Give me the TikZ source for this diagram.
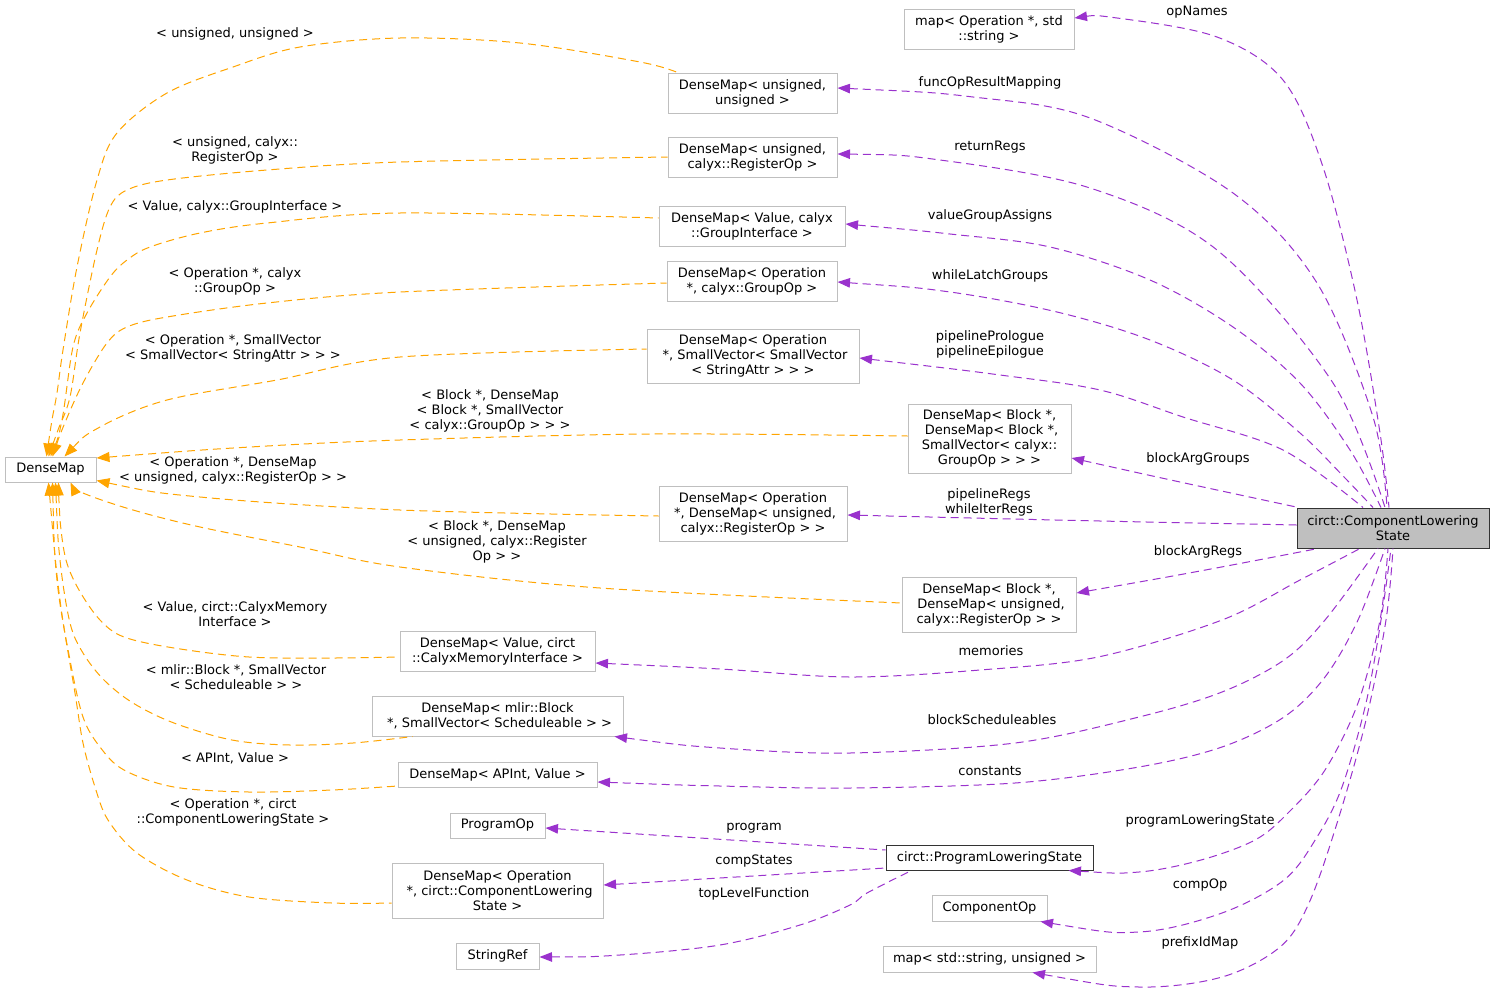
\documentclass[tikz,border=0pt]{standalone}
\usepackage{fontspec}
\setmainfont{DejaVu Sans}
\usetikzlibrary{arrows.meta}
\definecolor{edgeorange}{HTML}{FFA500}
\definecolor{edgepurple}{HTML}{9A32CD}
\definecolor{boxgray}{HTML}{BFBFBF}
\definecolor{clsfill}{HTML}{BFBFBF}
\definecolor{darkbord}{HTML}{333333}
\begin{document}
\begin{tikzpicture}[x=1pt,y=-1pt,
  every node/.style={font=\fontsize{13}{15}\selectfont, text=black},
  box/.style={draw=boxgray, line width=1pt, fill=white, align=center, inner sep=0pt},
  lab/.style={align=center, inner sep=0pt},
  oe/.style={draw=edgeorange, line width=1pt, dash pattern=on 8pt off 5pt, {Triangle[length=13pt,width=10pt]}-},
  pe/.style={draw=edgepurple, line width=1pt, dash pattern=on 8pt off 5pt, {Triangle[length=12.5pt,width=9.5pt]}-},
  sm/.style={smooth, tension=0.55}]
\fill[white] (0,0) rectangle (1495,993);
\useasboundingbox (0,0) rectangle (1495,993);

% nodes
\node[box, minimum width=170pt, minimum height=40pt] (mapOp) at (989,29) {map< Operation *, std\\::string >};
\node[box, minimum width=169pt, minimum height=40pt] (dmUU) at (752.5,93) {DenseMap< unsigned,\\unsigned >};
\node[box, minimum width=169pt, minimum height=40pt] (dmUR) at (752.5,157) {DenseMap< unsigned,\\calyx::RegisterOp >};
\node[box, minimum width=186pt, minimum height=40pt] (dmVG) at (752,226) {DenseMap< Value, calyx\\::GroupInterface >};
\node[box, minimum width=170pt, minimum height=40pt] (dmOG) at (752,281) {DenseMap< Operation\\*, calyx::GroupOp >};
\node[box, minimum width=212pt, minimum height=54pt] (dmOS) at (753,356) {DenseMap< Operation\\\ *, SmallVector< SmallVector\\< StringAttr > > >};
\node[box, minimum width=163pt, minimum height=69pt] (dmBB) at (989.5,438.5) {DenseMap< Block *,\\\ DenseMap< Block *,\\SmallVector< calyx::\\GroupOp > > >};
\node[box, minimum width=188pt, minimum height=55pt] (dmOD) at (753,513.5) {DenseMap< Operation\\\ *, DenseMap< unsigned,\\calyx::RegisterOp > >};
\node[box, minimum width=174pt, minimum height=55pt] (dmBU) at (989,604.5) {DenseMap< Block *,\\\ DenseMap< unsigned,\\calyx::RegisterOp > >};
\node[box, minimum width=195pt, minimum height=40pt] (dmVM) at (497.5,651) {DenseMap< Value, circt\\::CalyxMemoryInterface >};
\node[box, minimum width=251pt, minimum height=40pt] (dmMB) at (497.5,716) {DenseMap< mlir::Block\\\ *, SmallVector< Scheduleable > >};
\node[box, minimum width=199pt, minimum height=25pt] (dmAV) at (497.5,774.5) {DenseMap< APInt, Value >};
\node[box, minimum width=95pt, minimum height=25pt] (progOp) at (497.5,825.5) {ProgramOp};
\node[box, minimum width=211pt, minimum height=55pt] (dmOC) at (497.5,890.5) {DenseMap< Operation\\\ *, circt::ComponentLowering\\State >};
\node[box, minimum width=83pt, minimum height=26pt] (strRef) at (497.5,956) {StringRef};
\node[box, draw=darkbord, minimum width=207pt, minimum height=25pt] (pls) at (989.5,857.5) {circt::ProgramLoweringState};
\node[box, minimum width=115pt, minimum height=26pt] (compOp) at (989.5,908) {ComponentOp};
\node[box, minimum width=213pt, minimum height=26pt] (mapSU) at (989.5,959) {map< std::string, unsigned >};
\node[box, minimum width=91pt, minimum height=25pt] (dm) at (50.5,469.5) {DenseMap};
\node[box, draw=darkbord, fill=clsfill, minimum width=192pt, minimum height=40pt] (cls) at (1393,528) {circt::ComponentLowering\\State};

% orange edges
\draw[oe] plot[sm] coordinates {([xshift=-4pt]dm.north) (52,420) (57,393) (63,350) (77,267) (97,180) (117,133) (167,93) (233,67) (300,47) (400,38) (520,43) (640,62) ([xshift=10pt]dmUU.north west)};
\draw[oe] plot[sm] coordinates {([xshift=-2pt]dm.north) (58,430) (70,397) (80,333) (97,250) (110,207) (127,190) (167,180) (267,170) (400,162) (dmUR.west)};
\draw[oe] plot[sm] coordinates {(dm.north) (62,420) (73,347) (87,313) (110,277) (127,260) (150,247) (200,233) (267,223) (400,213) ([yshift=8pt]dmVG.west)};
\draw[oe] plot[sm] coordinates {([xshift=2pt]dm.north) (64,425) (83,383) (107,343) (127,327) (167,317) (267,303) (400,292) ([yshift=-2pt]dmOG.west)};
\draw[oe] plot[sm] coordinates {([xshift=14pt]dm.north) (100,427) (167,400) (277,380) (400,357) ([yshift=7pt]dmOS.west)};
\draw[oe] plot[sm] coordinates {([yshift=11.5pt]dm.east) (250,447) (400,440) (650,434) ([yshift=2.5pt]dmBB.west)};
\draw[oe] plot[sm] coordinates {([yshift=2pt]dm.south east) (200,497) (400,510) ([yshift=-2.5pt]dmOD.west)};
\draw[oe] plot[sm] coordinates {([xshift=-26pt]dm.south east) (83,493) (133,510) (200,527) (300,547) (400,567) (600,588) ([yshift=1.5pt]dmBU.west)};
\draw[oe] plot[sm] coordinates {([xshift=8pt]dm.south) (60,520) (66,560) (79,590) (100,620) (124,637) (174,648) (249,657) (332,658) ([yshift=-6pt]dmVM.west)};
\draw[oe] plot[sm] coordinates {([xshift=5pt]dm.south) (60,560) (70,623) (83,653) (104,680) (133,703) (174,723) (232,740) (290,745) (353,743) ([xshift=41pt]dmMB.south west)};
\draw[oe] plot[sm] coordinates {([xshift=2pt]dm.south) (57,580) (70,660) (83,717) (100,747) (124,770) (174,787) (249,792) (332,790) ([yshift=-11.5pt]dmAV.west)};
\draw[oe] plot[sm] coordinates {([xshift=-2pt]dm.south) (60,600) (75,693) (83,743) (95,787) (108,820) (137,853) (187,880) (249,897) (332,903) ([yshift=-12.5pt]dmOC.west)};

% purple edges from ComponentLoweringState
\draw[pe] plot[sm] coordinates {([yshift=11pt]mapOp.east) (1117,18) (1217,37) (1283,80) (1323,167) (1357,300) (1380,433) ([xshift=-4pt]cls.north)};
\draw[pe] plot[sm] coordinates {([yshift=5pt]dmUU.east) (973,97) (1090,118) (1233,193) (1317,283) (1373,417) ([xshift=-6pt]cls.north)};
\draw[pe] plot[sm] coordinates {([yshift=3pt]dmUR.east) (940,160) (1090,188) (1217,250) (1333,383) ([xshift=-8pt]cls.north)};
\draw[pe] plot[sm] coordinates {([yshift=2pt]dmVG.east) (950,234) (1050,247) (1150,280) (1233,327) (1300,383) (1350,450) ([xshift=-12pt]cls.north)};
\draw[pe] plot[sm] coordinates {([yshift=-1pt]dmOG.east) (950,292) (1057,312) (1150,340) (1233,380) (1300,433) (1345,478) ([xshift=-20pt]cls.north)};
\draw[pe] plot[sm] coordinates {([yshift=-2pt]dmOS.east) (1000,375) (1100,390) (1183,417) (1283,450) ([xshift=-30pt]cls.north)};
\draw[pe] plot[sm] coordinates {([yshift=-19.5pt]dmBB.east) (1180,482) ([xshift=2pt]cls.north west)};
\draw[pe] plot[sm] coordinates {([yshift=-1.5pt]dmOD.east) (1100,521) ([yshift=3pt]cls.west)};
\draw[pe] plot[sm] coordinates {([yshift=11.5pt]dmBU.east) (1200,571) ([xshift=-75pt]cls.south)};
\draw[pe] plot[sm] coordinates {([yshift=-12pt]dmVM.east) (720,669) (850,677) (980,670) (1098,657) (1222,620) (1300,580) ([xshift=-33pt]cls.south)};
\draw[pe] plot[sm] coordinates {([xshift=-9pt]dmMB.south east) (720,748) (850,753) (1015,743) (1139,717) (1222,692) (1284,660) (1325,620) ([xshift=-15pt]cls.south)};
\draw[pe] plot[sm] coordinates {([yshift=-7.5pt]dmAV.east) (720,786) (850,788) (1015,783) (1139,767) (1222,747) (1284,717) (1325,677) (1358,620) ([xshift=-8pt]cls.south)};
\draw[pe] plot[sm] coordinates {([xshift=-25pt]pls.south east) (1139,872) (1201,860) (1255,840) (1288,813) (1325,770) (1358,703) (1380,620) ([xshift=-5pt]cls.south)};
\draw[pe] plot[sm] coordinates {([xshift=-7pt]compOp.south east) (1139,932) (1222,913) (1284,880) (1317,837) (1342,787) (1366,703) (1381,620) ([xshift=-2pt]cls.south)};
\draw[pe] plot[sm] coordinates {([xshift=-64pt]mapSU.south east) (1139,987) (1222,977) (1280,947) (1309,903) (1338,820) (1366,720) (1386,620) (cls.south)};

% purple edges from ProgramLoweringState
\draw[pe] ([yshift=-2.5pt]progOp.east) -- ([yshift=7.5pt]pls.west);
\draw[pe] ([yshift=5.5pt]dmOC.east) -- ([yshift=-10.5pt]pls.west);
\draw[pe] plot[sm] coordinates {([yshift=-1pt]strRef.east) (620,955) (720,945) (800,925) (850,905) (867,893) ([xshift=26pt]pls.south west)};

% orange labels
\node[lab] (lo1) at (235,34) {< unsigned, unsigned >};
\node[lab] (lo2) at (235,150) {< unsigned, calyx::\\RegisterOp >};
\node[lab] (lo3) at (235,207) {< Value, calyx::GroupInterface >};
\node[lab] (lo4) at (235,281) {< Operation *, calyx\\::GroupOp >};
\node[lab] (lo5) at (233,348) {< Operation *, SmallVector\\< SmallVector< StringAttr > > >};
\node[lab] (lo6) at (490,411) {< Block *, DenseMap\\< Block *, SmallVector\\< calyx::GroupOp > > >};
\node[lab] (lo7) at (233,470) {< Operation *, DenseMap\\< unsigned, calyx::RegisterOp > >};
\node[lab] (lo8) at (497,542) {< Block *, DenseMap\\< unsigned, calyx::Register\\Op > >};
\node[lab] (lo9) at (235,614) {< Value, circt::CalyxMemory\\Interface >};
\node[lab] (lo10) at (236,677) {< mlir::Block *, SmallVector\\< Scheduleable > >};
\node[lab] (lo11) at (235,758) {< APInt, Value >};
\node[lab] (lo12) at (233,812) {< Operation *, circt\\::ComponentLoweringState >};

% purple labels
\node[lab] (lp1) at (1197,12) {opNames};
\node[lab] (lp2) at (990,83) {funcOpResultMapping};
\node[lab] (lp3) at (990,147) {returnRegs};
\node[lab] (lp4) at (990,216) {valueGroupAssigns};
\node[lab] (lp5) at (990,276) {whileLatchGroups};
\node[lab] (lp6) at (990,344) {pipelinePrologue\\pipelineEpilogue};
\node[lab] (lp7) at (1198,459) {blockArgGroups};
\node[lab] (lp8) at (989,502) {pipelineRegs\\whileIterRegs};
\node[lab] (lp9) at (1198,552) {blockArgRegs};
\node[lab] (lp10) at (991,651) {memories};
\node[lab] (lp11) at (992,720) {blockScheduleables};
\node[lab] (lp12) at (990,771) {constants};
\node[lab] (lp13) at (1200,821) {programLoweringState};
\node[lab] (lp14) at (1200,885) {compOp};
\node[lab] (lp15) at (1200,943) {prefixIdMap};
\node[lab] (lp16) at (754,828) {program};
\node[lab] (lp17) at (754,861) {compStates};
\node[lab] (lp18) at (754,894) {topLevelFunction};
\end{tikzpicture}
\end{document}
